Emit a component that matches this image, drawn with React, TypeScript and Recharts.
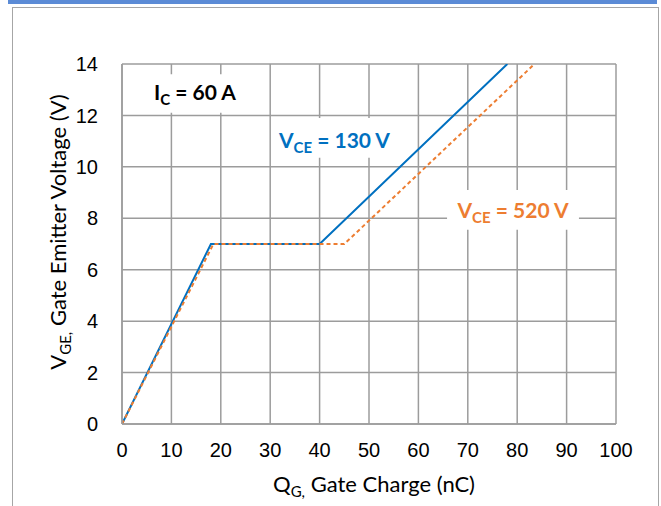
import React from "react";
import {
  LineChart, Line, XAxis, YAxis, CartesianGrid, ReferenceArea, Customized,
} from "recharts";

// gate charge curves: [Qg (nC), Vge (V)]
const qgLow = [0, 18, 40, 78];
const vgeLow = [0, 7, 7, 14];
const qgHigh = [0, 18.5, 45, 83.5];
const vgeHigh = [0, 7, 7, 14];

const xTicks = [0, 10, 20, 30, 40, 50, 60, 70, 80, 90, 100];
const yTicks = [0, 2, 4, 6, 8, 10, 12, 14];

const BLUE = "#0070C0";
const ORANGE = "#ED7D31";
const GRID = "#9c9c9c";
const LABEL_FONT = "Lato, 'Noto Sans', sans-serif";
const TICK_FONT = "'Liberation Sans', Arial, sans-serif";

const lowData = qgLow.map((q, i) => ({ q, v: vgeLow[i] }));
const highData = qgHigh.map((q, i) => ({ q, v: vgeHigh[i] }));

type Note = {
  main: string;
  sub: string;
  rest: string;
  color: string;
  x1: number; x2: number; y1: number; y2: number;
  // text baseline offset from box top, px
  base: number;
};

const notes: Note[] = [
  { main: "I", sub: "C", rest: " = 60 A", color: "#000", x1: 5.5, x2: 24, y1: 12.1, y2: 13.6, base: 26 },
  { main: "V", sub: "CE", rest: " = 130 V", color: BLUE, x1: 30.8, x2: 55.2, y1: 10.35, y2: 11.9, base: 30 },
  { main: "V", sub: "CE", rest: " = 520 V", color: ORANGE, x1: 65.8, x2: 92.5, y1: 7.55, y2: 9.1, base: 28 },
];

function noteLabel(n: Note) {
  return (props: any) => {
    const vb = props.viewBox || {};
    const cx = vb.x + vb.width / 2;
    return (
      <text
        x={cx}
        y={vb.y + n.base}
        textAnchor="middle"
        fill={n.color}
        fontFamily={LABEL_FONT}
        fontWeight={700}
        fontSize={21}
      >
        <tspan>{n.main}</tspan>
        <tspan dy={5} fontSize={15}>{n.sub}</tspan>
        <tspan dy={-5}>{n.rest}</tspan>
      </text>
    );
  };
}

function AxisTitles() {
  return (
    <g fontFamily={LABEL_FONT} fontSize={22} fill="#000">
      <text x={374} y={492} textAnchor="middle">
        <tspan>Q</tspan>
        <tspan dy={5} fontSize={15}>G,</tspan>
        <tspan dy={-5}>{"  Gate Charge (nC)"}</tspan>
      </text>
      <text x={66} y={232} textAnchor="middle" transform="rotate(-90, 66, 232)">
        <tspan>V</tspan>
        <tspan dy={5} fontSize={15}>GE,</tspan>
        <tspan dy={-5}>{"  Gate Emitter Voltage (V)"}</tspan>
      </text>
    </g>
  );
}

export default function App() {
  return (
    <div
      style={{
        position: "absolute",
        left: 0,
        top: 0,
        width: 661,
        height: 506,
        overflow: "hidden",
        background: "#fff",
      }}
    >
      <div style={{ position: "absolute", left: 8, top: 0, width: 649, height: 4, background: "#5B8BD6" }} />
      <div
        style={{
          position: "absolute",
          left: 12,
          top: 7,
          width: 645,
          height: 540,
          border: "1.5px solid #a6a6a6",
        }}
      />
      <div style={{ position: "absolute", left: 0, top: 0 }}>
        <LineChart width={661} height={506} margin={{ top: 64, right: 45, bottom: 0, left: 0 }}>
          <CartesianGrid stroke={GRID} strokeWidth={1.5} horizontalValues={yTicks} verticalValues={xTicks} />
          <XAxis
            type="number"
            dataKey="q"
            domain={[0, 100]}
            ticks={xTicks}
            height={82}
            axisLine={{ stroke: GRID, strokeWidth: 1.5 }}
            tickLine={false}
            tickMargin={13}
            tick={{ fill: "#000", fontSize: 20, fontFamily: TICK_FONT }}
            allowDataOverflow
          />
          <YAxis
            type="number"
            dataKey="v"
            domain={[0, 14]}
            ticks={yTicks}
            width={122}
            axisLine={{ stroke: GRID, strokeWidth: 1.5 }}
            tickLine={false}
            tickMargin={18}
            tick={{ fill: "#000", fontSize: 20, fontFamily: TICK_FONT }}
            allowDataOverflow
          />
          {notes.map((n, i) => (
            <ReferenceArea
              key={i}
              x1={n.x1}
              x2={n.x2}
              y1={n.y1}
              y2={n.y2}
              fill="#fff"
              fillOpacity={1}
              stroke="none"
              label={{ content: noteLabel(n) }}
            />
          ))}
          <Line
            data={lowData}
            dataKey="v"
            type="linear"
            stroke={BLUE}
            strokeWidth={2}
            dot={false}
            isAnimationActive={false}
          />
          <Line
            data={highData}
            dataKey="v"
            type="linear"
            stroke={ORANGE}
            strokeWidth={2}
            strokeDasharray="4 3"
            dot={false}
            isAnimationActive={false}
          />
          <Customized component={AxisTitles} />
        </LineChart>
      </div>
    </div>
  );
}
